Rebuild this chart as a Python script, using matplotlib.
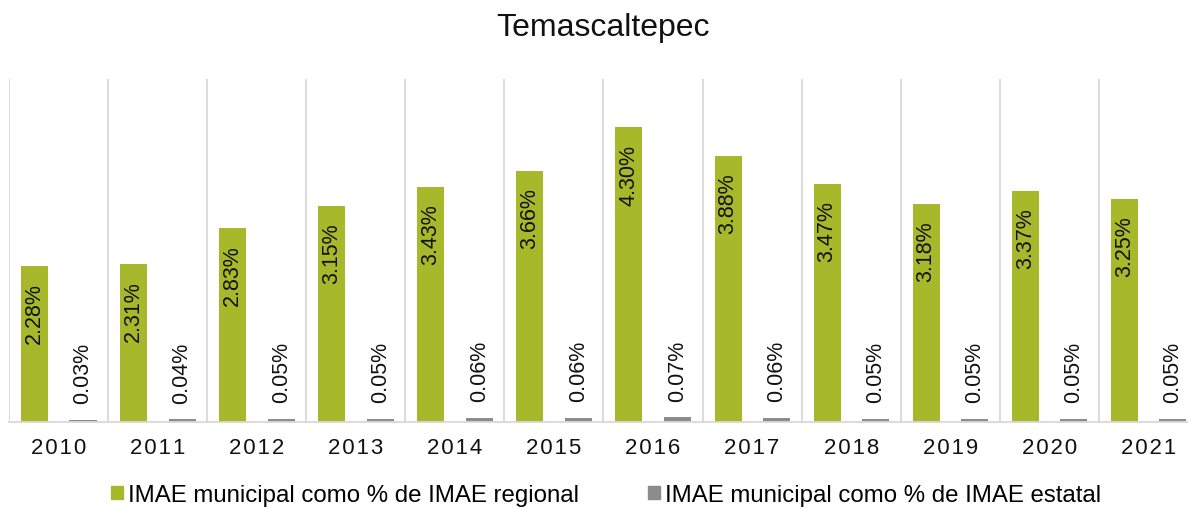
import numpy as np
import matplotlib
matplotlib.use("Agg")
import matplotlib.pyplot as plt
from matplotlib.patches import Patch

plt.rcParams['font.family'] = ['Liberation Sans', 'DejaVu Sans']

years = ["2010", "2011", "2012", "2013", "2014", "2015",
         "2016", "2017", "2018", "2019", "2020", "2021"]
regional = [2.28, 2.31, 2.83, 3.15, 3.43, 3.66, 4.30, 3.88, 3.47, 3.18, 3.37, 3.25]
estatal = [0.03, 0.04, 0.05, 0.05, 0.06, 0.06, 0.07, 0.06, 0.05, 0.05, 0.05, 0.05]

green = "#A8B82B"
gray = "#8C8C8C"
grid_color = "#D9D9D9"

fig = plt.figure(figsize=(11.88, 5.10), dpi=100)
ax = fig.add_axes([9 / 1188, 1 - 423 / 510, 1189 / 1188, 343 / 510])

x = np.arange(len(years))
w = 0.273
b1 = ax.bar(x - 0.243, regional, w, color=green, zorder=2)
b2 = ax.bar(x + 0.247, estatal, w, color=gray, zorder=2)

ax.set_xlim(-0.5, len(years) - 0.5)
ax.set_ylim(0, 5.0)

# separadores entre categorias
ax.vlines(np.arange(-0.5, len(years), 1.0), 0, 5.0, color=grid_color, lw=1.3, zorder=1)

for rect, v in zip(b1, regional):
    ax.annotate(f"{v:.2f}%", (rect.get_x() + rect.get_width() / 2, v),
                xytext=(0, -12), textcoords="offset points",
                rotation=90, ha="center", va="top", fontsize=15.5, color="#111111")
for rect, v in zip(b2, estatal):
    ax.annotate(f"{v:.2f}%", (rect.get_x() + rect.get_width() / 2, v),
                xytext=(0, 12), textcoords="offset points",
                rotation=90, ha="center", va="bottom", fontsize=15.5, color="#111111")

ax.set_xticks(x)
ax.set_xticklabels(["\u200a".join(y) for y in years], fontsize=16, color="#111111")
ax.tick_params(axis="x", length=0, pad=11)
ax.set_yticks([])
for s in ["top", "right", "left"]:
    ax.spines[s].set_visible(False)
ax.spines["bottom"].set_color(grid_color)
ax.spines["bottom"].set_linewidth(1.3)

fig.text(603 / 1188, 1 - 28 / 510, "Temascaltepec", ha="center", va="center",
         fontsize=23, color="#111111")

handles = [Patch(color=green, label="IMAE municipal como % de IMAE regional"),
           Patch(color=gray, label="IMAE municipal como % de IMAE estatal")]
fig.legend(handles=handles, loc="center", bbox_to_anchor=(606 / 1188, 1 - 496 / 510),
           ncol=2, frameon=False, fontsize=17.3, handlelength=0.5, handleheight=0.5,
           handletextpad=0.2, columnspacing=2.9)

fig.savefig("out.png", dpi=100)
